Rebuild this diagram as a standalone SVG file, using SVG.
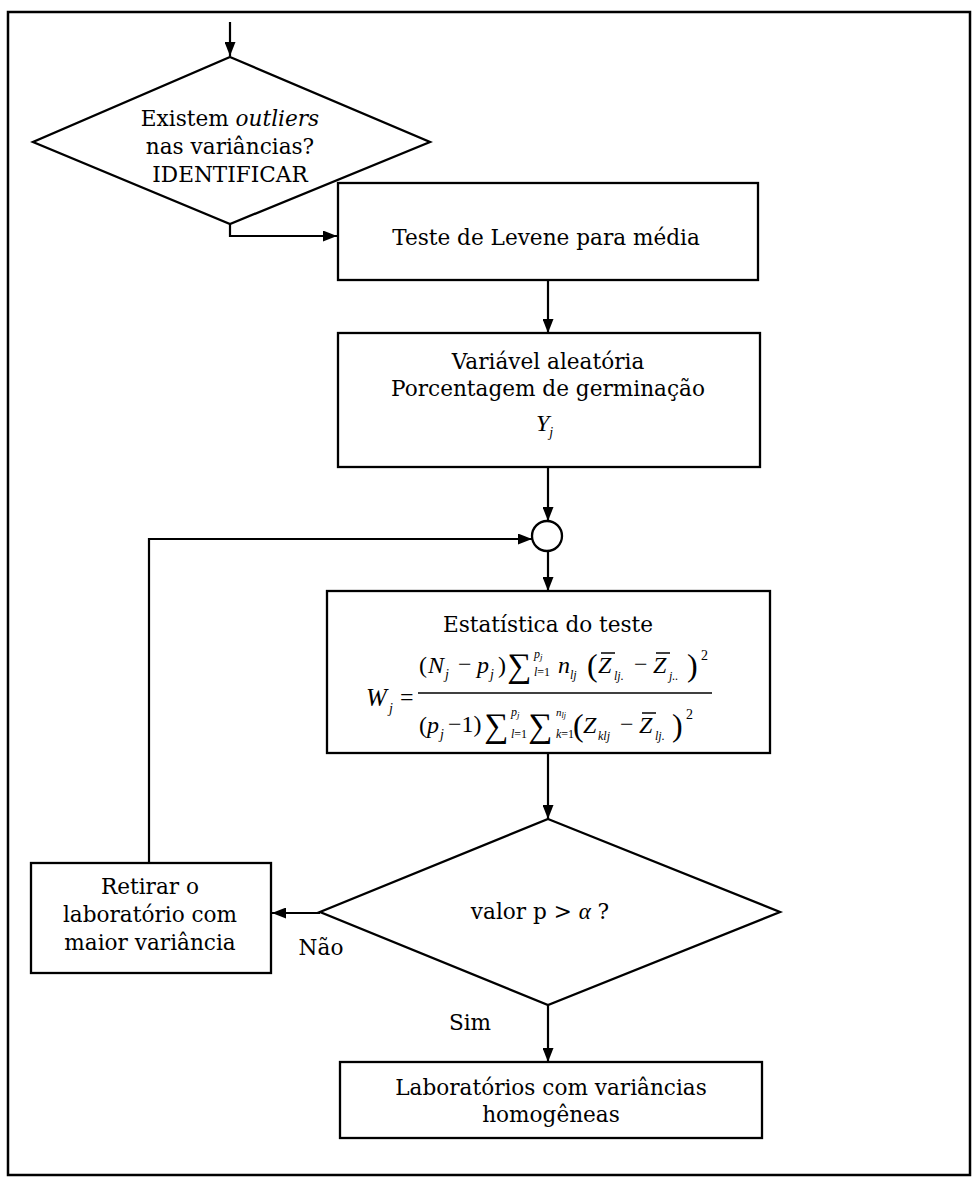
<svg xmlns="http://www.w3.org/2000/svg" width="974" height="1180" viewBox="0 0 974 1180">
<defs>
<marker id="ah" viewBox="0 0 14 11" refX="14" refY="5.5" markerWidth="14" markerHeight="11" markerUnits="userSpaceOnUse" orient="auto">
<path d="M0,0 L14,5.5 L0,11 Z" fill="#000"/>
</marker>
<style>
.box{fill:#fff;stroke:#000;stroke-width:2.3}
.con{fill:none;stroke:#000;stroke-width:2.2}
.t{font-family:"DejaVu Serif","Liberation Serif",serif;font-size:21.6px;fill:#000;text-anchor:middle}
.m{font-family:"Liberation Serif","Times New Roman",serif;fill:#000}
.mi{font-family:"Liberation Serif","Times New Roman",serif;font-style:italic;fill:#000}
.bar{stroke:#000;stroke-width:1.5}
</style>
</defs>
<rect width="974" height="1180" fill="#fff"/>
<rect id="frame" x="8" y="12" width="962" height="1163" fill="none" stroke="#000" stroke-width="2.5"/>

<g id="connectors">
<path class="con" d="M230,22 V56" marker-end="url(#ah)"/>
<path class="con" d="M230,224 V236 H337" marker-end="url(#ah)"/>
<path class="con" d="M548,280 V333" marker-end="url(#ah)"/>
<path class="con" d="M548,467 V521" marker-end="url(#ah)"/>
<path class="con" d="M548,551 V591" marker-end="url(#ah)"/>
<path class="con" d="M149,863 V539 H532" marker-end="url(#ah)"/>
<path class="con" d="M548,753 V819" marker-end="url(#ah)"/>
<path class="con" d="M320,913 H272" marker-end="url(#ah)"/>
<path class="con" d="M548,1005 V1062" marker-end="url(#ah)"/>
</g>

<g id="decision1">
<polygon class="box" points="230,57 430,142 230,224 33,142"/>
<text class="t" x="230" y="126">Existem <tspan font-style="italic">outliers</tspan></text>
<text class="t" x="230" y="154">nas variâncias?</text>
<text class="t" x="230" y="182">IDENTIFICAR</text>
</g>

<g id="levene">
<rect class="box" x="338" y="183" width="420" height="97"/>
<text class="t" x="546" y="245">Teste de Levene para média</text>
</g>

<g id="variavel">
<rect class="box" x="338" y="333" width="422" height="134"/>
<text class="t" x="548" y="369">Variável aleatória</text>
<text class="t" x="548" y="396">Porcentagem de germinação</text>
<text class="mi" x="536" y="431" font-size="24">Y<tspan font-size="14" dy="6">j</tspan></text>
</g>

<g id="junction">
<circle cx="547" cy="536" r="15" fill="#fff" stroke="#000" stroke-width="2.3"/>
</g>

<g id="estatistica">
<rect class="box" x="327" y="591" width="443" height="162"/>
<text class="t" x="548" y="632">Estatística do teste</text>
<!-- W_j = -->
<text class="mi" x="366" y="706" font-size="25">W</text>
<text class="mi" x="389" y="713" font-size="14">j</text>
<text class="m" x="400" y="705" font-size="24">=</text>
<line x1="418" y1="693" x2="712" y2="693" stroke="#000" stroke-width="1.6"/>
<!-- numerator -->
<text class="m" x="419" y="673" font-size="24">(</text>
<text class="mi" x="428" y="673" font-size="24">N</text>
<text class="mi" x="445" y="679" font-size="14">j</text>
<text class="m" x="458" y="672" font-size="24">−</text>
<text class="mi" x="477" y="673" font-size="24">p</text>
<text class="mi" x="490" y="679" font-size="14">j</text>
<text class="m" x="498" y="673" font-size="24">)</text>
<text class="m" x="507" y="677" font-size="34">∑</text>
<text class="mi" x="534" y="658" font-size="12">p<tspan font-size="9" dy="2">j</tspan></text>
<text class="mi" x="534" y="676" font-size="12">l<tspan font-style="normal">=1</tspan></text>
<text class="mi" x="558" y="673" font-size="24">n</text>
<text class="mi" x="570" y="679" font-size="12">lj</text>
<text class="m" x="587" y="676" font-size="32">(</text>
<text class="mi" x="598" y="673" font-size="24">Z</text>
<line class="bar" x1="601" y1="653" x2="615" y2="653"/>
<text class="mi" x="614" y="680" font-size="12">lj.</text>
<text class="m" x="634" y="672" font-size="24">−</text>
<text class="mi" x="653" y="673" font-size="24">Z</text>
<line class="bar" x1="656" y1="653" x2="670" y2="653"/>
<text class="mi" x="669" y="680" font-size="12">j..</text>
<text class="m" x="687" y="676" font-size="32">)</text>
<text class="m" x="701" y="660" font-size="14">2</text>
<!-- denominator -->
<text class="m" x="419" y="733" font-size="24">(</text>
<text class="mi" x="427" y="733" font-size="24">p</text>
<text class="mi" x="440" y="739" font-size="14">j</text>
<text class="m" x="448" y="732" font-size="24">−1)</text>
<text class="m" x="484" y="737" font-size="34">∑</text>
<text class="mi" x="511" y="716" font-size="12">p<tspan font-size="9" dy="2">j</tspan></text>
<text class="mi" x="511" y="738" font-size="12">l<tspan font-style="normal">=1</tspan></text>
<text class="m" x="528" y="737" font-size="34">∑</text>
<text class="mi" x="556" y="716" font-size="11">n<tspan font-size="8" dy="2">lj</tspan></text>
<text class="mi" x="556" y="738" font-size="12">k<tspan font-style="normal">=1</tspan></text>
<text class="m" x="573" y="736" font-size="32">(</text>
<text class="mi" x="583" y="733" font-size="24">Z</text>
<text class="mi" x="598" y="740" font-size="12">klj</text>
<text class="m" x="620" y="732" font-size="24">−</text>
<text class="mi" x="639" y="733" font-size="24">Z</text>
<line class="bar" x1="642" y1="713" x2="656" y2="713"/>
<text class="mi" x="655" y="740" font-size="12">lj.</text>
<text class="m" x="672" y="736" font-size="32">)</text>
<text class="m" x="686" y="719" font-size="14">2</text>
</g>

<g id="decision2">
<polygon class="box" points="548,819 780,912 548,1005 320,912"/>
<text class="t" x="540" y="919">valor p &gt; <tspan class="mi" font-size="23">α</tspan> ?</text>
</g>

<g id="retirar">
<rect class="box" x="31" y="863" width="240" height="110"/>
<text class="t" x="150" y="894">Retirar o</text>
<text class="t" x="150" y="922">laboratório com</text>
<text class="t" x="150" y="950">maior variância</text>
</g>

<g id="labels">
<text class="t" x="321" y="955">Não</text>
<text class="t" x="470" y="1030">Sim</text>
</g>

<g id="homogeneas">
<rect class="box" x="340" y="1062" width="422" height="76"/>
<text class="t" x="551" y="1095">Laboratórios com variâncias</text>
<text class="t" x="551" y="1122">homogêneas</text>
</g>
</svg>
